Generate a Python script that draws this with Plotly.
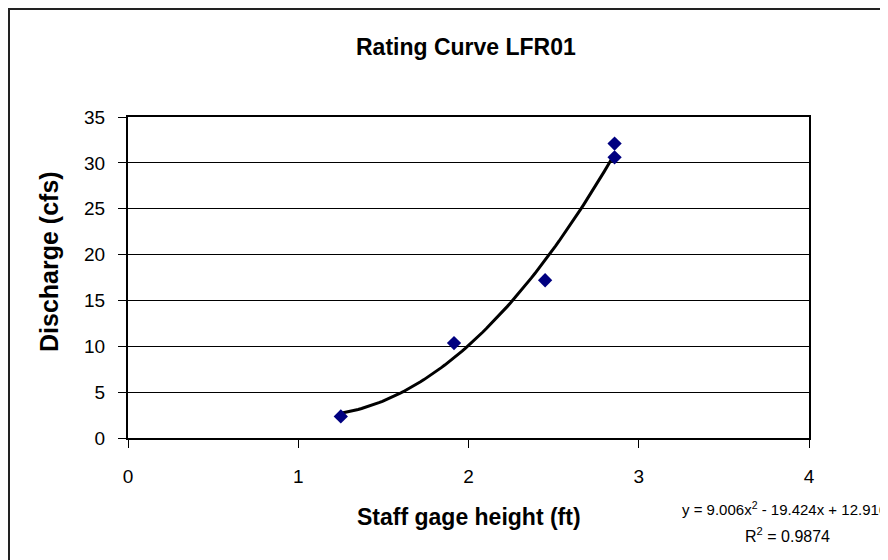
import numpy as np
import plotly.graph_objects as go

# Data
gage_height = [1.25, 1.915, 2.45, 2.858, 2.858]
discharge = [2.35, 10.35, 17.2, 32.1, 30.6]

# Trendline coefficients (as shown on chart)
trend_coef = [9.006, -19.424, 12.916]
trend_label = "y = 9.006x<sup>2</sup> - 19.424x + 12.916"
r2_label = "R<sup>2</sup> = 0.9874"

x_ticks = [0, 1, 2, 3, 4]
y_ticks = [0, 5, 10, 15, 20, 25, 30, 35]

xs = np.linspace(min(gage_height), max(gage_height), 80)
ys = np.polyval(trend_coef, xs)

# page has an 8px body margin; plot area target (page px): x 128..809, y 117..438
L, R, T, B = 120, 801, 109, 430
W, H = 888, 560
PW, PH = R - L, B - T


def px(xf):
    return (xf - L) / PW


def py(yf):
    return (B - yf) / PH


fig = go.Figure()
fig.add_trace(go.Scatter(x=xs, y=ys, mode="lines",
                         line=dict(color="black", width=3), showlegend=False,
                         hoverinfo="skip"))
fig.add_trace(go.Scatter(x=gage_height, y=discharge, mode="markers",
                         marker=dict(symbol="diamond", size=11, color="#000080",
                                     line=dict(width=0)),
                         showlegend=False))

font_family = "Liberation Sans, Arial, sans-serif"
fig.update_layout(
    width=W, height=H,
    margin=dict(l=L, r=W - R, t=T, b=H - B),
    paper_bgcolor="white", plot_bgcolor="white",
    font=dict(family=font_family, color="black", size=18),
    xaxis=dict(range=[0, 4], tickvals=x_ticks, showgrid=False,
               showline=True, linecolor="black", linewidth=2, mirror=True,
               ticks="outside", ticklen=8, tickcolor="black", tickwidth=1,
               tickfont=dict(size=19), zeroline=False, ticklabelstandoff=12),
    yaxis=dict(range=[0, 35], tickvals=y_ticks, showgrid=True, gridcolor="black",
               gridwidth=1, showline=True, linecolor="black", linewidth=2, mirror=True,
               ticks="outside", ticklen=8, tickcolor="black", tickwidth=1,
               tickfont=dict(size=19), zeroline=False, ticklabelstandoff=9),
    shapes=[dict(type="rect", xref="paper", yref="paper",
                 x0=px(1), x1=px(W + 20), y0=py(H + 20), y1=py(1),
                 line=dict(color="#222222", width=2), fillcolor="rgba(0,0,0,0)")],
    annotations=[
        dict(text="<b>Rating Curve LFR01</b>", xref="paper", yref="paper",
             x=px(458), y=py(39), xanchor="center", yanchor="middle",
             showarrow=False, font=dict(size=23)),
        dict(text="<b>Staff gage height (ft)</b>", xref="paper", yref="paper",
             x=px(461), y=py(509), xanchor="center", yanchor="middle",
             showarrow=False, font=dict(size=23)),
        dict(text="<b>Discharge (cfs)</b>", xref="paper", yref="paper",
             x=px(41), y=py(254), xanchor="center", yanchor="middle",
             textangle=-90, showarrow=False, font=dict(size=25)),
        dict(text=trend_label, xref="paper", yref="paper",
             x=px(672), y=py(500), xanchor="left", yanchor="middle",
             showarrow=False, font=dict(size=15)),
        dict(text=r2_label, xref="paper", yref="paper",
             x=px(779), y=py(527), xanchor="center", yanchor="middle",
             showarrow=False, font=dict(size=16)),
    ],
)

fig.write_html("out.html")
